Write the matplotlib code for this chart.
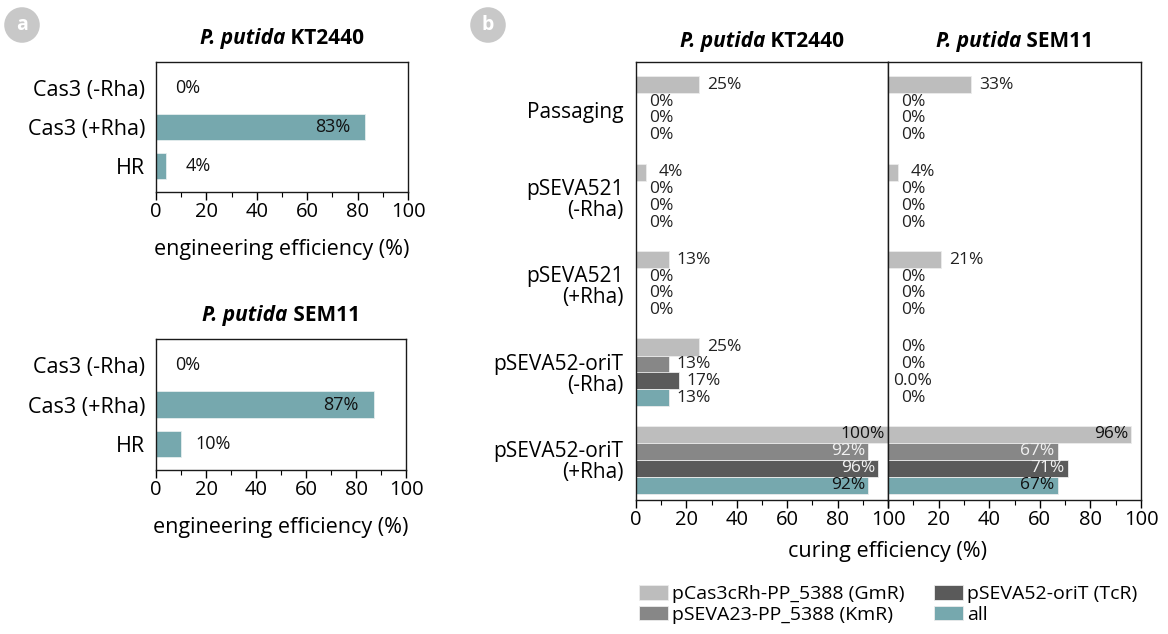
import numpy as np
import matplotlib
matplotlib.use('Agg')
from matplotlib import pyplot as plt
from matplotlib.offsetbox import TextArea, HPacker, AnchoredOffsetbox
from matplotlib.ticker import MultipleLocator

plt.rcParams['font.family'] = ['Open Sans', 'DejaVu Sans']

# panel a data
cats_a = ['Cas3 (-Rha)', 'Cas3 (+Rha)', 'HR']
kt_a = [0, 83, 4]
sem_a = [0, 87, 10]

# panel b data
cats_b = ['Passaging', 'pSEVA521\n(-Rha)', 'pSEVA521\n(+Rha)',
          'pSEVA52-oriT\n(-Rha)', 'pSEVA52-oriT\n(+Rha)']
series_b = ['pCas3cRh-PP_5388 (GmR)', 'pSEVA23-PP_5388 (KmR)',
            'pSEVA52-oriT (TcR)', 'all']
kt_gm = [25, 4, 13, 25, 100]
kt_km = [0, 0, 0, 13, 92]
kt_tc = [0, 0, 0, 17, 96]
kt_all = [0, 0, 0, 13, 92]
sem_gm = [33, 4, 21, 0, 96]
sem_km = [0, 0, 0, 0, 67]
sem_tc = [0, 0, 0, 0, 71]
sem_all = [0, 0, 0, 0, 67]
sem_tc_labels = ['0%', '0%', '0%', '0.0%', '71%']

teal = '#76a8ae'
colors_b = ['#bdbdbd', '#878787', '#5a5a5a', teal]
inside_text = ['#111111', '#f2f2f2', '#f2f2f2', '#111111']

fig = plt.figure(figsize=(11.68, 6.34), dpi=100)


def add_title(ax, strain, y=1.0, pad=8):
    box = HPacker(children=[
        TextArea('P. putida', textprops=dict(style='italic', weight='bold', size=15)),
        TextArea(' ' + strain, textprops=dict(weight='bold', size=15))],
        align='baseline', pad=0, sep=0)
    anc = AnchoredOffsetbox(loc='lower center', child=box, frameon=False,
                            bbox_to_anchor=(0.5, y), bbox_transform=ax.transAxes,
                            pad=0, borderpad=pad / 10)
    ax.add_artist(anc)


def style_x(ax):
    ax.set_xlim(0, 100)
    ax.xaxis.set_major_locator(MultipleLocator(20))
    ax.xaxis.set_minor_locator(MultipleLocator(10))
    ax.tick_params(axis='x', which='major', length=6, width=1, pad=1.5, labelsize=14.5)
    ax.tick_params(axis='x', which='minor', length=3.5, width=0.8)
    ax.tick_params(axis='y', length=0, pad=8, labelsize=15.5)
    for s in ax.spines.values():
        s.set_linewidth(1)
        s.set_color('#1a1a1a')


def panel_a(rect, vals, strain):
    ax = fig.add_axes(rect)
    y = np.arange(len(cats_a))
    ax.barh(y, vals, height=0.67, color=teal, edgecolor='#e6eeee', linewidth=0.6)
    ax.set_yticks(y, cats_a)
    ax.set_ylim(2.66, -0.66)
    style_x(ax)
    for yi, v in zip(y, vals):
        if v > 50:
            ax.annotate(f'{v}%', (v, yi), xytext=(-11, 0), textcoords='offset points',
                        ha='right', va='center', fontsize=13, color='#111111')
        else:
            ax.annotate(f'{v}%', (v, yi), xytext=(23, 0), textcoords='offset points',
                        ha='center', va='center', fontsize=13, color='#111111')
    ax.set_xlabel('engineering efficiency (%)', fontsize=15.5, labelpad=12)
    add_title(ax, strain, pad=9.5)
    return ax


panel_a([156 / 1168, 1 - 192 / 634, 252 / 1168, 130 / 634], kt_a, 'KT2440')
panel_a([156 / 1168, 1 - 470 / 634, 250 / 1168, 131 / 634], sem_a, 'SEM11')


def panel_b(rect, data, labels, strain, first):
    ax = fig.add_axes(rect)
    y = np.arange(len(cats_b))
    offs = [-0.29, -0.095, 0.095, 0.29]
    for k, vals in enumerate(data):
        ax.barh(y + offs[k], vals, height=0.195, color=colors_b[k],
                edgecolor='#ececec', linewidth=0.6, label=series_b[k])
        for yi, v, lab in zip(y, vals, labels[k]):
            if v > 50:
                ax.annotate(lab, (v, yi + offs[k]), xytext=(-2, 0), textcoords='offset points',
                            ha='right', va='center', fontsize=12.5, color=inside_text[k])
            else:
                ax.annotate(lab, (v, yi + offs[k]), xytext=(18, 0), textcoords='offset points',
                            ha='center', va='center', fontsize=12.5, color='#222222')
    ax.set_ylim(4.46, -0.55)
    style_x(ax)
    if first:
        ax.set_yticks(y, cats_b, ha='right', linespacing=1.0)
        ax.tick_params(axis='y', labelsize=15, pad=9)
    else:
        ax.set_yticks([])
        ax.set_xticks(np.arange(0, 101, 20), ['', '20', '40', '60', '80', '100'])
    add_title(ax, strain, pad=7)
    return ax


def pct(vals):
    return [f'{v}%' for v in vals]


axl = panel_b([636 / 1168, 1 - 500 / 634, 252 / 1168, 438 / 634],
              [kt_gm, kt_km, kt_tc, kt_all],
              [pct(kt_gm), pct(kt_km), pct(kt_tc), pct(kt_all)], 'KT2440', True)
panel_b([888 / 1168, 1 - 500 / 634, 253 / 1168, 438 / 634],
        [sem_gm, sem_km, sem_tc, sem_all],
        [pct(sem_gm), pct(sem_km), sem_tc_labels, pct(sem_all)], 'SEM11', False)

fig.text(888 / 1168, 1 - 552 / 634, 'curing efficiency (%)', ha='center', va='center', fontsize=15.5)

handles, labs = axl.get_legend_handles_labels()
fig.legend(handles, labs, loc='upper left', bbox_to_anchor=(0.539, 0.092), ncol=2,
           frameon=False, fontsize=14, handlelength=1.5, handleheight=0.75,
           handletextpad=0.2, columnspacing=1.5, labelspacing=0.12, borderpad=0)

# panel letters
for x, letter in [(22, 'a'), (488, 'b')]:
    fig.text(x / 1168, 1 - 25 / 634, letter, ha='center', va='center', fontsize=14,
             fontweight='bold', color='white',
             bbox=dict(boxstyle='circle,pad=0.4', facecolor='#c8c8c8', edgecolor='none'))

fig.savefig('out.png', dpi=100)
